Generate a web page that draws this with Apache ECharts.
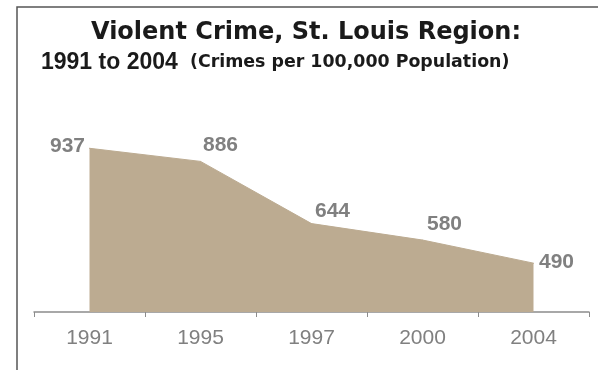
<!DOCTYPE html>
<html>
<head>
<meta charset="utf-8">
<script src="https://cdn.jsdelivr.net/npm/echarts@6/dist/echarts.min.js"></script>
<style>html,body{margin:0;padding:0;background:#fff;}#c{width:598px;height:370px;}</style>
</head>
<body>
<div id="c"></div>
<script>
const years = ['1991', '1995', '1997', '2000', '2004'];
const crimeRate = [937, 886, 644, 580, 490];

const labelCfg = [
  { position: 'left', distance: 4, offset: [0, -2] },
  { position: 'top', offset: [20, 0] },
  { position: 'top', offset: [21, 4] },
  { position: 'top', offset: [22, 0] },
  { position: 'right', distance: 5, offset: [0, -1] }
];

const chart = echarts.init(document.getElementById('c'), null, { renderer: 'canvas' });
chart.setOption({
  animation: false,
  backgroundColor: '#ffffff',
  title: [
    {
      text: 'Violent Crime, St. Louis Region:',
      left: 301, top: 16, textAlign: 'center',
      textStyle: { fontFamily: 'DejaVu Sans, sans-serif', fontSize: 24, fontWeight: 'bold', color: '#1a1a1a' }
    },
    {
      text: '{a|1991 to 2004}{b|  (Crimes per 100,000 Population)}',
      left: 36, top: 46,
      textStyle: {
        rich: {
          a: { fontFamily: 'Liberation Sans, Arial, sans-serif', fontSize: 23, fontWeight: 'bold', color: '#1a1a1a' },
          b: { fontFamily: 'DejaVu Sans, sans-serif', fontSize: 17.4, fontWeight: 'bold', color: '#1a1a1a' }
        }
      }
    }
  ],
  graphic: [
    { type: 'polyline', shape: { points: [[17, 370], [17, 7], [598, 7]] }, style: { stroke: '#555555', lineWidth: 1.5, fill: null } }
  ],
  grid: { left: 34, right: 9, top: 55, bottom: 58 },
  xAxis: {
    type: 'category',
    data: years,
    boundaryGap: true,
    axisLine: { lineStyle: { color: '#8c8c8c', width: 1.5 } },
    axisTick: { show: true, length: 5, lineStyle: { color: '#8c8c8c', width: 1 } },
    axisLabel: { color: '#808080', fontSize: 21, fontFamily: 'Liberation Sans, Arial, sans-serif', margin: 16 }
  },
  yAxis: { type: 'value', min: 300, max: 1300, show: false, splitLine: { show: false } },
  series: [{
    type: 'line',
    data: crimeRate.map((v, i) => ({
      value: v,
      label: Object.assign({ show: true }, labelCfg[i])
    })),
    symbol: 'circle',
    symbolSize: 1,
    showSymbol: true,
    itemStyle: { color: '#bcab91' },
    lineStyle: { color: '#bcab91', width: 1 },
    areaStyle: { color: '#bcab91', opacity: 1, origin: 'start' },
    label: {
      show: true,
      color: '#808080',
      fontSize: 21,
      fontWeight: 'bold',
      fontFamily: 'Liberation Sans, Arial, sans-serif'
    }
  }]
});
</script>
</body>
</html>
